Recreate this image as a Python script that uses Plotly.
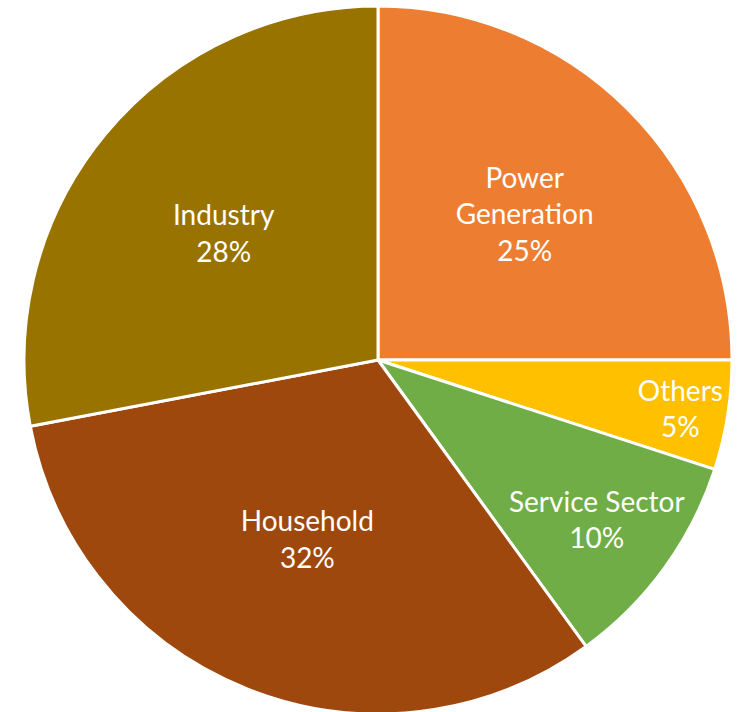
import plotly.graph_objects as go

labels = ["Power Generation", "Others", "Service Sector", "Household", "Industry"]
text_labels = ["Power<br>Generation", "Others", "Service Sector", "Household", "Industry"]
values = [25, 5, 10, 32, 28]
colors = ["#ED7D31", "#FFC000", "#70AD47", "#9E480E", "#997300"]

fig = go.Figure(go.Pie(
    labels=labels,
    values=values,
    customdata=text_labels,
    texttemplate="%{customdata}<br>%{percent:.0%}",
    textinfo="text",
    textposition="inside",
    insidetextorientation="horizontal",
    sort=False,
    direction="clockwise",
    rotation=0,
    marker=dict(colors=colors, line=dict(color="white", width=3)),
    textfont=dict(family="Lato, Open Sans, sans-serif", size=28, color="white"),
    hoverinfo="label+percent",
    showlegend=False,
))

fig.update_layout(
    width=744, height=716,
    margin=dict(l=24, r=12, t=6, b=2),
    paper_bgcolor="white",
    plot_bgcolor="white",
    uniformtext=dict(minsize=28, mode="show"),
)

fig.write_html("out.html", config={"displayModeBar": False},
               post_script="document.body.style.margin='0';")
